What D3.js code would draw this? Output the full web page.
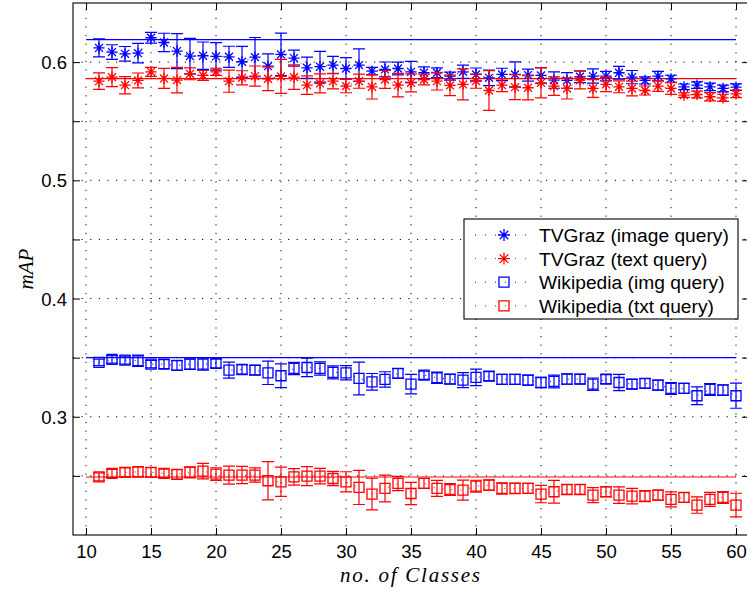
<!DOCTYPE html>
<html>
<head>
<meta charset="utf-8">
<script src="https://cdn.jsdelivr.net/npm/d3@7"></script>
<style>
  html, body { margin: 0; padding: 0; background: #fff; }
  svg { display: block; }
  .tick-label { font-family: "Liberation Sans", Arial, sans-serif; font-size: 18.5px; fill: #000; }
  .legend-text { font-family: "Liberation Sans", Arial, sans-serif; font-size: 19.2px; fill: #000; }
  .axis-title { font-family: "Liberation Serif", "DejaVu Serif", serif; font-style: italic; font-size: 21px; fill: #000; }
</style>
</head>
<body>
<svg id="chart" width="747" height="592"></svg>
<script>
// Number of classes on the x axis
const classes = [11,12,13,14,15,16,17,18,19,20,21,22,23,24,25,26,27,28,29,30,
                 31,32,33,34,35,36,37,38,39,40,41,42,43,44,45,46,47,48,49,50,
                 51,52,53,54,55,56,57,58,59,60];

// TVGraz, image query (mean mAP and error)
const tvImg = [0.612,0.6085,0.607,0.6076,0.6206,0.6166,0.6093,0.6051,0.6054,0.6048,
               0.6045,0.6003,0.6042,0.5966,0.6065,0.6034,0.5952,0.5961,0.5975,0.5946,
               0.5975,0.5924,0.5938,0.5946,0.5918,0.591,0.591,0.5882,0.5918,0.5896,
               0.5867,0.5896,0.5896,0.589,0.5887,0.5848,0.5845,0.5876,0.5882,0.5882,
               0.591,0.5873,0.5845,0.5882,0.5859,0.5791,0.5805,0.5791,0.5777,0.5788];
const tvImgErr = [0.0076,0.0062,0.0062,0.0083,0.0045,0.0078,0.0148,0.015,0.0116,0.0116,
                  0.0089,0.013,0.0166,0.0103,0.018,0.0068,0.009,0.013,0.0073,0.0092,
                  0.0137,0.0032,0.0063,0.0054,0.0089,0.005,0.0042,0.0034,0.0056,0.0054,
                  0.0066,0.0052,0.0106,0.005,0.0066,0.0069,0.0066,0.005,0.006,0.004,
                  0.0054,0.0056,0.003,0.004,0.003,0.0024,0.0028,0.0032,0.0028,0.0028];

// TVGraz, text query
const tvTxt = [0.5839,0.5873,0.5805,0.5845,0.5918,0.5862,0.5848,0.5901,0.5887,0.5918,
               0.5839,0.5867,0.5882,0.5859,0.5879,0.5873,0.5805,0.582,0.5839,0.5797,
               0.5839,0.5791,0.5853,0.5805,0.5825,0.5853,0.5839,0.5803,0.5811,0.5839,
               0.576,0.5805,0.5788,0.5783,0.5825,0.5797,0.5777,0.5848,0.5777,0.5811,
               0.5791,0.5777,0.576,0.5797,0.5777,0.5721,0.5726,0.5707,0.5698,0.5732];
const tvTxtErr = [0.007,0.008,0.0073,0.0063,0.0038,0.0085,0.0108,0.005,0.0042,0.003,
                  0.0094,0.006,0.0085,0.01,0.0144,0.0103,0.0078,0.008,0.0066,0.0056,
                  0.006,0.0103,0.0076,0.0099,0.0076,0.0045,0.0075,0.0087,0.0131,0.006,
                  0.0168,0.0054,0.0106,0.0103,0.0127,0.0078,0.0089,0.0075,0.0075,0.006,
                  0.005,0.0063,0.0038,0.0045,0.005,0.002,0.0028,0.0035,0.003,0.0032];

// Wikipedia, image query
const wikiImg = [0.346,0.3485,0.3479,0.3474,0.3445,0.3445,0.3434,0.3445,0.3445,0.3451,
                 0.3395,0.34,0.3395,0.3372,0.3347,0.3409,0.3417,0.3409,0.3375,0.3372,
                 0.3324,0.3296,0.3316,0.3367,0.3276,0.3352,0.333,0.3319,0.331,0.3333,
                 0.3344,0.3316,0.3316,0.331,0.329,0.3299,0.3319,0.3319,0.3276,0.3319,
                 0.329,0.3276,0.3282,0.3268,0.324,0.324,0.3178,0.3231,0.3226,0.3178];
const wikiImgErr = [0.0028,0.0032,0.0034,0.0047,0.0032,0.0038,0.004,0.0044,0.005,0.0037,
                    0.0068,0.004,0.004,0.0099,0.01,0.0052,0.0078,0.0056,0.0055,0.006,
                    0.0138,0.007,0.0065,0.004,0.0083,0.0035,0.0047,0.004,0.0063,0.007,
                    0.0038,0.0042,0.0042,0.0042,0.0044,0.0054,0.0044,0.004,0.0052,0.0038,
                    0.0069,0.004,0.004,0.0042,0.005,0.0042,0.0075,0.005,0.0045,0.0106];

// Wikipedia, text query
const wikiTxt = [0.2492,0.2521,0.2529,0.2535,0.2529,0.2521,0.2512,0.2529,0.254,0.2515,
                 0.2507,0.2507,0.2507,0.2459,0.245,0.2492,0.2498,0.2498,0.2478,0.245,
                 0.2402,0.2346,0.2394,0.2436,0.2351,0.2436,0.2394,0.2385,0.238,0.2413,
                 0.2422,0.2394,0.2394,0.2394,0.2346,0.2366,0.2385,0.2385,0.2337,0.2366,
                 0.2337,0.2329,0.2329,0.2337,0.2301,0.2318,0.2253,0.2301,0.2318,0.2253];
const wikiTxtErr = [0.0034,0.0034,0.0038,0.0042,0.004,0.0035,0.004,0.0047,0.0066,0.0054,
                    0.0076,0.0073,0.006,0.0162,0.0124,0.007,0.008,0.0066,0.006,0.0085,
                    0.0144,0.0134,0.0113,0.006,0.0094,0.0042,0.0068,0.005,0.0085,0.005,
                    0.0045,0.0048,0.0045,0.0042,0.0073,0.0096,0.0042,0.0042,0.0063,0.0042,
                    0.007,0.0066,0.0047,0.0042,0.0063,0.0041,0.0069,0.0059,0.005,0.01];

// Baseline levels drawn as solid horizontal lines
const baseLevels = [0.619, 0.586, 0.350, 0.249];
const baseColors = ["#0000ff", "#ff0000", "#0000ff", "#ff0000"];
const baseSpan = [10, 60];

// Axis ticks
const xTicks = [10, 15, 20, 25, 30, 35, 40, 45, 50, 55, 60];
const yTicks = [0.25, 0.3, 0.35, 0.4, 0.45, 0.5, 0.55, 0.6];
const yTickLabels = ["0.3", "0.4", "0.5", "0.6"];

const legendLabels = ["TVGraz (image query)", "TVGraz (text query)",
                      "Wikipedia (img query)", "Wikipedia (txt query)"];

const svg = d3.select("#chart");
const plotL = 73, plotR = 749, plotT = 3, plotB = 535;

const x = d3.scaleLinear().domain([9, 61]).range([plotL, plotR]);
const y = d3.scaleLinear().domain([0.2, 0.65]).range([plotB, plotT]);

svg.append("rect").attr("width", 747).attr("height", 592).attr("fill", "#fff");

// dotted grid
const grid = svg.append("g").attr("stroke", "#000").attr("stroke-width", 1)
  .attr("stroke-dasharray", "1.2,7.4").attr("fill", "none");
grid.selectAll("line.gx").data(xTicks).join("line")
  .attr("x1", d => x(d)).attr("x2", d => x(d))
  .attr("y1", plotB).attr("y2", plotT);
grid.selectAll("line.gy").data(yTicks).join("line")
  .attr("y1", d => y(d)).attr("y2", d => y(d))
  .attr("x1", plotL).attr("x2", plotR);

// axes: ticks pointing inward on all four sides
const fmt1 = d3.format(".1f");
const xAxisB = d3.axisBottom(x).tickValues(xTicks).tickSizeInner(-7).tickSizeOuter(0).tickFormat(d3.format("d"));
const xAxisT = d3.axisTop(x).tickValues(xTicks).tickSizeInner(-7).tickSizeOuter(0).tickFormat("");
const yAxisL = d3.axisLeft(y).tickValues(yTicks).tickSizeInner(-7).tickSizeOuter(0)
  .tickFormat(d => (Math.abs(d * 10 - Math.round(d * 10)) < 1e-9 && yTickLabels.includes(fmt1(d))) ? fmt1(d) : "");
const yAxisR = d3.axisRight(y).tickValues(yTicks).tickSizeInner(-7).tickSizeOuter(0).tickFormat("");

function styleAxis(g) {
  g.select(".domain").remove();
  g.selectAll(".tick line").attr("stroke", "#000").attr("stroke-width", 1);
  g.selectAll(".tick text").attr("class", "tick-label").attr("fill", "#000")
    .style("font-family", "'Liberation Sans', Arial, sans-serif").style("font-size", "18.5px");
}
svg.append("g").attr("transform", `translate(0,${plotB})`).call(xAxisB).call(styleAxis)
  .selectAll(".tick text").attr("dy", null).attr("y", 23);
svg.append("g").attr("transform", `translate(0,${plotT})`).call(xAxisT).call(styleAxis);
svg.append("g").attr("transform", `translate(${plotL},0)`).call(yAxisL).call(styleAxis)
  .selectAll(".tick text").attr("x", -6).attr("dy", "0.35em");
svg.append("g").attr("transform", `translate(${plotR},0)`).call(yAxisR).call(styleAxis);

// frame
svg.append("rect").attr("x", plotL).attr("y", plotT)
  .attr("width", plotR - plotL).attr("height", plotB - plotT)
  .attr("fill", "none").attr("stroke", "#000").attr("stroke-width", 1.1);

// baselines
svg.append("g").selectAll("line").data(baseLevels).join("line")
  .attr("x1", x(baseSpan[0])).attr("x2", x(baseSpan[1]))
  .attr("y1", d => y(d)).attr("y2", d => y(d))
  .attr("stroke", (d, i) => baseColors[i]).attr("stroke-width", 1.1);

// marker painters
function starPath(r) {
  const d = r * Math.SQRT1_2;
  return `M${-r},0L${r},0M0,${-r}L0,${r}M${-d},${-d}L${d},${d}M${-d},${d}L${d},${-d}`;
}
function squarePath(r) {
  return `M${-r},${-r}H${r}V${r}H${-r}Z`;
}

const series = [
  { vals: tvImg, errs: tvImgErr, color: "#0000ff", marker: "star" },
  { vals: tvTxt, errs: tvTxtErr, color: "#ff0000", marker: "star" },
  { vals: wikiImg, errs: wikiImgErr, color: "#0000ff", marker: "square" },
  { vals: wikiTxt, errs: wikiTxtErr, color: "#ff0000", marker: "square" }
];

const capHalf = 6;
const line = d3.line().x(d => x(d[0])).y(d => y(d[1]));

series.forEach(s => {
  const pts = classes.map((c, i) => [c, s.vals[i], s.errs[i]]);
  const g = svg.append("g");
  // dotted connecting line
  g.append("path").attr("d", line(pts)).attr("fill", "none")
    .attr("stroke", s.color).attr("stroke-width", 1).attr("stroke-dasharray", "1,8");
  // error bars
  const eb = g.append("g").attr("stroke", s.color).attr("stroke-width", 1.2).attr("fill", "none");
  eb.selectAll("path").data(pts).join("path")
    .attr("d", d => {
      const cx = x(d[0]), y1 = y(d[1] + d[2]), y2 = y(d[1] - d[2]);
      return `M${cx},${y1}V${y2}M${cx - capHalf},${y1}H${cx + capHalf}M${cx - capHalf},${y2}H${cx + capHalf}`;
    });
  // markers
  const mk = s.marker === "star" ? starPath(5.6) : squarePath(5);
  g.append("g").selectAll("path").data(pts).join("path")
    .attr("transform", d => `translate(${x(d[0])},${y(d[1])})`)
    .attr("d", mk).attr("fill", "none").attr("stroke", s.color).attr("stroke-width", 1.3);
});

// legend
const lg = svg.append("g");
lg.append("rect").attr("x", 464).attr("y", 219).attr("width", 274).attr("height", 100)
  .attr("fill", "#fff").attr("stroke", "#000").attr("stroke-width", 1.1);
series.forEach((s, i) => {
  const cy = 235 + i * 23.6;
  lg.append("line").attr("x1", 475).attr("x2", 532).attr("y1", cy).attr("y2", cy)
    .attr("stroke", s.color).attr("stroke-width", 1).attr("stroke-dasharray", "1,9");
  lg.append("path").attr("transform", `translate(504,${cy})`)
    .attr("d", s.marker === "star" ? starPath(6) : squarePath(5))
    .attr("fill", "none").attr("stroke", s.color).attr("stroke-width", 1.3);
  lg.append("text").attr("class", "legend-text").attr("x", 539).attr("y", cy + 7)
    .text(legendLabels[i]);
});

// axis titles
svg.append("text").attr("class", "axis-title")
  .attr("x", (plotL + plotR) / 2 - 1).attr("y", 582).attr("text-anchor", "middle")
  .attr("textLength", 140).attr("lengthAdjust", "spacing")
  .text("no. of Classes");
svg.append("text").attr("class", "axis-title")
  .attr("transform", `translate(33,${(plotT + plotB) / 2}) rotate(-90)`)
  .attr("text-anchor", "middle")
  .text("mAP");
</script>
</body>
</html>
